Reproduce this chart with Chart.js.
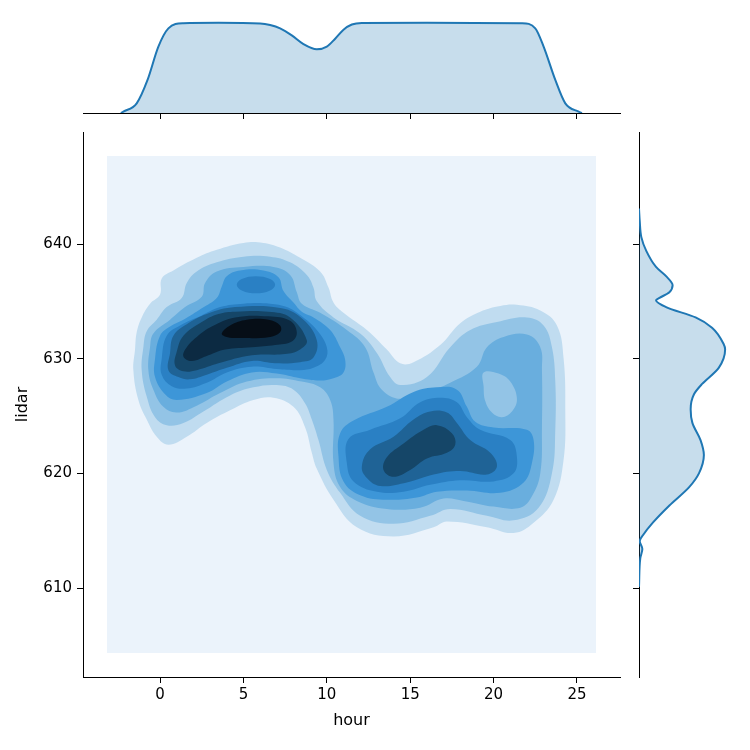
<!DOCTYPE html>
<html>
<head>
<meta charset="utf-8">
<script src="https://cdn.jsdelivr.net/npm/chart.js@4.4.1/dist/chart.umd.min.js"></script>
<style>
  html, body { margin: 0; padding: 0; background: #fff; }
  #wrap { position: relative; width: 750px; height: 750px; }
  canvas { position: absolute; }
</style>
</head>
<body>
<div id="wrap">
  <canvas id="joint" width="750" height="750" style="left:0;top:0"></canvas>
  <canvas id="margX" width="750" height="140" style="left:0;top:0"></canvas>
  <canvas id="margY" width="150" height="750" style="left:600px;top:0"></canvas>
</div>
<script>
// tick labels
const hourTicks = [0, 5, 10, 15, 20, 25];
const lidarTicks = [610, 620, 630, 640];

// axis ranges
const hourRange = [-4.62, 27.58];
const lidarRange = [602.24, 649.77];

// marginal KDE of hour
const hourGrid = [-2.35, -2.2, -1.4, -0.75, -0.1, 0.5, 1.4, 3.5, 6.0, 6.6, 7.2, 7.9, 8.6, 9.4, 10.0, 10.5, 11.0, 11.5, 12.1, 16.0, 21.7, 22.5, 23.0, 23.7, 24.3, 25.1, 25.3];
const hourDensity = [0, 0.0006, 0.0043, 0.0147, 0.0295, 0.0376, 0.0399, 0.0401, 0.0398, 0.0391, 0.0376, 0.0345, 0.0306, 0.0283, 0.0295, 0.0330, 0.0370, 0.0393, 0.0400, 0.0401, 0.0399, 0.0376, 0.0295, 0.0147, 0.0043, 0.0006, 0];
const hourDensityMax = 0.0422;

// marginal KDE of lidar
const lidarGrid = [643.1, 642.0, 640.6, 639.4, 638.0, 637.2, 636.4, 635.8, 635.3, 635.1, 634.5, 633.6, 632.7, 631.3, 630.8, 629.2, 627.8, 626.9, 625.6, 624.4, 622.9, 621.6, 620.0, 618.8, 617.2, 615.7, 614.6, 614.1, 613.4, 612.6, 610.1];
const lidarDensity = [0, 0.0005, 0.0016, 0.0050, 0.0117, 0.0186, 0.0231, 0.0209, 0.0141, 0.0117, 0.0186, 0.0389, 0.0502, 0.0581, 0.0592, 0.0548, 0.0434, 0.0378, 0.0355, 0.0367, 0.0423, 0.0446, 0.0412, 0.0345, 0.0209, 0.0095, 0.0027, 0.0005, 0.0023, 0.0009, 0];
const lidarDensityMax = 0.0653;

// joint KDE: filled contour outlines (hour, lidar), lowest level first
const kdeExtent = [[-3.18, 604.34], [26.14, 604.34], [26.14, 647.67], [-3.18, 647.67]];
const level1 = [[-1.6, 629.0], [-1.5, 630.8], [-1.4, 632.3], [-1.1, 633.6], [-0.6, 634.8], [0.0, 635.6], [0.1, 637.0], [0.8, 637.7], [2.2, 638.8], [3.4, 639.5], [5.0, 640.1], [6.2, 640.1], [7.2, 639.7], [8.4, 638.8], [9.6, 637.6], [10.1, 636.2], [10.4, 634.9], [11.0, 634.0], [12.4, 632.5], [13.6, 630.8], [14.4, 629.6], [15.2, 629.7], [16.8, 631.2], [18.0, 633.1], [19.2, 634.1], [20.4, 634.6], [21.4, 634.7], [22.8, 634.2], [23.8, 632.9], [24.2, 630.0], [24.3, 625.5], [24.2, 621.2], [23.6, 617.7], [22.4, 615.7], [21.2, 614.8], [19.6, 615.3], [17.2, 615.8], [16.4, 615.3], [14.0, 614.5], [11.8, 615.3], [10.4, 617.7], [9.4, 620.4], [9.1, 621.8], [8.7, 624.0], [8.0, 625.8], [6.8, 626.6], [5.6, 626.4], [4.2, 625.5], [2.8, 624.4], [1.6, 623.2], [0.5, 622.5], [-0.2, 623.2], [-0.8, 624.7], [-1.3, 626.4]];
const level2 = [[-1.1, 629.0], [-1.0, 631.0], [-0.8, 632.4], [-0.2, 633.4], [0.4, 634.5], [1.3, 635.3], [1.6, 636.6], [2.2, 637.6], [3.4, 638.4], [5.0, 638.9], [6.6, 638.9], [7.8, 638.4], [8.8, 637.3], [9.2, 636.2], [9.4, 635.0], [10.4, 633.6], [12.0, 632.2], [13.0, 630.5], [13.8, 628.4], [14.4, 627.7], [16.0, 628.4], [17.4, 631.0], [18.6, 632.5], [20.2, 633.2], [22.0, 633.6], [23.0, 632.9], [23.5, 631.0], [23.7, 628.0], [23.7, 623.8], [23.5, 620.0], [22.7, 617.0], [21.2, 615.9], [19.6, 616.3], [17.4, 616.9], [16.2, 616.3], [14.0, 615.6], [12.0, 616.3], [10.8, 618.3], [10.0, 620.3], [9.5, 622.9], [9.1, 624.7], [8.7, 626.1], [8.0, 627.3], [7.0, 627.7], [5.6, 627.5], [4.2, 626.8], [2.6, 625.4], [1.4, 624.4], [0.4, 624.2], [-0.3, 624.9], [-0.8, 626.7]];
const level3 = [[-0.7, 629.0], [-0.6, 631.0], [-0.4, 632.2], [0.6, 633.4], [1.5, 634.5], [2.5, 635.4], [2.7, 636.6], [3.4, 637.6], [5.0, 638.0], [6.8, 638.0], [7.8, 637.3], [8.2, 635.8], [8.5, 634.8], [9.6, 634.0], [11.2, 632.5], [12.3, 631.0], [12.8, 628.8], [13.3, 627.3], [14.4, 626.5], [16.0, 627.1], [17.4, 627.9], [19.0, 629.3], [19.6, 631.0], [20.6, 631.9], [22.0, 632.1], [22.8, 631.0], [22.9, 629.0], [22.9, 624.0], [22.8, 620.0], [22.3, 618.0], [21.6, 617.0], [20.0, 617.1], [18.2, 617.6], [17.0, 617.8], [15.6, 617.0], [13.6, 616.9], [11.8, 617.6], [10.8, 618.8], [10.4, 620.9], [10.4, 624.7], [10.2, 626.4], [9.6, 627.5], [8.5, 628.0], [7.0, 628.3], [5.2, 628.0], [3.6, 627.0], [2.2, 625.9], [1.0, 625.3], [0.2, 625.8], [-0.4, 627.3]];
const level3Hole = [[19.4, 627.6], [19.4, 628.8], [20.3, 628.7], [21.0, 628.0], [21.4, 626.5], [21.1, 625.4], [20.5, 624.9], [19.9, 625.3], [19.5, 626.3]];
const level4Left = [[-0.3, 628.4], [-0.3, 630.0], [0.0, 632.0], [0.6, 632.8], [1.4, 633.4], [2.5, 634.4], [3.4, 635.3], [3.7, 636.3], [4.0, 637.2], [4.8, 637.7], [6.2, 637.7], [7.1, 637.1], [7.4, 635.9], [8.0, 634.9], [8.5, 634.1], [9.2, 633.6], [10.2, 632.5], [10.8, 631.0], [11.1, 629.9], [11.0, 628.8], [10.4, 628.3], [9.6, 628.1], [8.4, 628.3], [7.0, 628.7], [5.5, 628.8], [4.0, 628.0], [2.8, 627.0], [1.0, 626.4], [0.3, 626.9]];
const level4Right = [[10.7, 621.5], [10.8, 623.5], [11.6, 624.6], [13.6, 625.8], [15.2, 627.1], [16.6, 627.5], [17.8, 627.3], [18.4, 625.8], [18.9, 624.5], [20.0, 624.0], [22.0, 623.8], [22.4, 622.9], [22.3, 620.9], [21.8, 619.2], [20.4, 618.3], [18.4, 618.5], [16.6, 618.4], [15.4, 617.9], [13.6, 617.7], [12.0, 618.1], [11.0, 619.3]];
const level5Left = [[0.1, 628.6], [0.1, 630.0], [0.4, 632.0], [1.2, 632.9], [2.4, 633.7], [3.6, 634.5], [5.0, 634.8], [6.6, 634.8], [7.6, 634.5], [8.4, 633.8], [9.4, 632.5], [10.0, 631.0], [9.9, 629.9], [9.2, 629.2], [8.4, 629.0], [7.0, 629.1], [5.5, 629.3], [4.0, 628.8], [2.8, 627.9], [1.6, 627.4], [0.7, 627.6]];
const level5Top = [[4.6, 636.45], [4.9, 636.95], [5.75, 637.2], [6.6, 636.95], [6.9, 636.45], [6.6, 635.95], [5.75, 635.7], [4.9, 635.95]];
const level5Right = [[11.2, 620.9], [11.3, 623.0], [12.6, 623.8], [14.4, 624.8], [15.6, 626.2], [16.8, 626.6], [17.8, 626.2], [18.4, 624.9], [19.2, 623.8], [21.0, 622.9], [21.4, 621.4], [21.2, 620.0], [20.0, 619.3], [18.0, 619.4], [16.2, 619.0], [14.6, 618.4], [13.0, 618.4], [11.6, 619.3]];
const level6Left = [[0.5, 629.0], [0.6, 630.5], [0.8, 632.0], [1.6, 633.0], [2.8, 633.9], [4.5, 634.5], [7.3, 634.4], [8.6, 633.4], [9.4, 631.6], [9.2, 630.1], [8.4, 629.7], [6.9, 629.6], [5.5, 629.8], [4.0, 629.2], [2.8, 628.6], [1.8, 628.2], [1.1, 628.4]];
const level6Right = [[12.1, 620.6], [12.6, 622.1], [14.0, 623.2], [15.2, 624.7], [16.2, 625.4], [17.2, 625.3], [17.8, 624.4], [18.6, 622.9], [19.8, 621.8], [20.2, 620.6], [19.6, 619.9], [18.0, 620.2], [16.4, 619.9], [14.8, 619.2], [13.2, 618.9], [12.4, 619.6]];
const level7Left = [[0.9, 629.4], [1.0, 630.6], [1.4, 632.0], [2.5, 633.2], [3.5, 633.9], [4.5, 634.1], [6.5, 634.1], [7.8, 633.6], [8.8, 631.6], [8.4, 630.8], [7.5, 630.4], [5.5, 630.3], [3.5, 629.6], [2.2, 629.0], [1.4, 628.9]];
const level7Right = [[13.4, 620.3], [13.6, 621.4], [14.6, 622.6], [15.8, 623.8], [16.6, 624.2], [17.5, 623.5], [17.7, 622.5], [17.2, 621.8], [16.0, 621.3], [15.0, 620.3], [14.0, 619.7]];
const level8 = [[1.4, 630.2], [1.6, 631.0], [2.2, 631.9], [3.1, 632.8], [4.5, 633.6], [6.5, 633.7], [7.8, 633.3], [8.2, 632.3], [7.9, 631.5], [6.9, 631.2], [5.5, 631.0], [3.9, 630.8], [2.9, 630.3], [1.9, 629.8]];
const level9 = [[3.7, 632.2], [4.2, 632.9], [5.2, 633.4], [6.5, 633.4], [7.2, 632.9], [7.2, 632.3], [6.6, 631.9], [4.8, 631.8], [4.0, 631.9]];

// colours of the shading levels, light to dark
const shadeColors = ['#ebf3fb', '#c0dcf0', '#93c4e6', '#69aede', '#3d96d8', '#2a80c4', '#1f6396', '#154668', '#0c2a42', '#060e17'];

const lineBlue = '#1f77b4';
const fillBlue = 'rgba(31, 119, 180, 0.25)';
const textFont = { family: 'DejaVu Sans', size: 15 };
const titleFont = { family: 'DejaVu Sans', size: 16 };

// wrap a closed outline so the smoothed curve has no corner at its start
function ring(pts) {
  const wrapped = [pts[pts.length - 1], ...pts, pts[0], pts[1]];
  return wrapped.map(([x, y]) => ({ x, y }));
}

const layers = [
  [kdeExtent, 0, 0],
  [level1, 1], [level2, 2], [level3, 3], [level3Hole, 2],
  [level4Left, 4], [level4Right, 4],
  [level5Left, 5], [level5Top, 5], [level5Right, 5],
  [level6Left, 6], [level6Right, 6],
  [level7Left, 7], [level7Right, 7],
  [level8, 8], [level9, 9]
];

const contourSets = layers.map(([pts, lvl, tension = 0.4], i) => ({
  data: tension ? ring(pts) : pts.map(([x, y]) => ({ x, y })),
  showLine: true,
  fill: 'shape',
  tension: tension,
  borderWidth: 0,
  pointRadius: 0,
  backgroundColor: shadeColors[lvl],
  order: layers.length - i
}));

function fixedTicks(values) {
  return scale => { scale.ticks = values.map(v => ({ value: v })); };
}

const tickGrid = { drawOnChartArea: false, drawTicks: true, tickLength: 6, tickColor: '#000', tickWidth: 1 };
const axisBorder = { display: true, color: '#000', width: 1 };

// JOINT PLOT
new Chart(document.getElementById('joint'), {
  type: 'scatter',
  data: { datasets: contourSets },
  options: {
    responsive: false,
    animation: false,
    events: [],
    layout: { padding: { top: 132, right: 130, left: 0, bottom: 0 } },
    plugins: { legend: { display: false }, tooltip: { enabled: false } },
    scales: {
      x: {
        type: 'linear', min: hourRange[0], max: hourRange[1],
        afterBuildTicks: fixedTicks(hourTicks),
        afterFit: s => { s.height = 73; },
        grid: tickGrid, border: axisBorder,
        ticks: { color: '#000', font: textFont, padding: 3, maxRotation: 0, autoSkip: false, callback: v => v },
        title: { display: true, text: 'hour', color: '#000', font: titleFont, padding: { bottom: 20 } }
      },
      y: {
        type: 'linear', min: lidarRange[0], max: lidarRange[1],
        afterBuildTicks: fixedTicks(lidarTicks),
        afterFit: s => { s.width = 83; },
        grid: tickGrid, border: axisBorder,
        ticks: { color: '#000', font: textFont, padding: 5, autoSkip: false, callback: v => v },
        title: { display: true, text: 'lidar', color: '#000', font: titleFont, padding: { top: 13 } }
      }
    }
  }
});

// TOP MARGINAL (hour)
new Chart(document.getElementById('margX'), {
  type: 'scatter',
  data: {
    datasets: [{
      data: hourGrid.map((x, i) => ({ x, y: hourDensity[i] })),
      showLine: true, fill: 'shape', cubicInterpolationMode: 'monotone',
      borderColor: lineBlue, borderWidth: 2, backgroundColor: fillBlue, pointRadius: 0
    }]
  },
  options: {
    responsive: false,
    animation: false,
    events: [],
    layout: { padding: { top: 18, right: 130, left: 83, bottom: 0 } },
    plugins: { legend: { display: false }, tooltip: { enabled: false } },
    scales: {
      x: {
        type: 'linear', min: hourRange[0], max: hourRange[1],
        afterBuildTicks: fixedTicks(hourTicks),
        afterFit: s => { s.height = 27; },
        grid: tickGrid, border: axisBorder,
        ticks: { display: false }
      },
      y: { type: 'linear', min: 0, max: hourDensityMax, display: false }
    }
  }
});

// RIGHT MARGINAL (lidar)
new Chart(document.getElementById('margY'), {
  type: 'scatter',
  data: {
    datasets: [{
      data: lidarGrid.map((y, i) => ({ x: lidarDensity[i], y })),
      showLine: true, fill: 'shape', cubicInterpolationMode: 'monotone',
      borderColor: lineBlue, borderWidth: 2, backgroundColor: fillBlue, pointRadius: 0
    }]
  },
  options: {
    indexAxis: 'y',
    responsive: false,
    animation: false,
    events: [],
    layout: { padding: { top: 132, right: 16, left: 0, bottom: 73 } },
    plugins: { legend: { display: false }, tooltip: { enabled: false } },
    scales: {
      x: { type: 'linear', axis: 'x', position: 'bottom', min: 0, max: lidarDensityMax, display: false },
      y: {
        type: 'linear', axis: 'y', position: 'left', min: lidarRange[0], max: lidarRange[1],
        afterBuildTicks: fixedTicks(lidarTicks),
        afterFit: s => { s.width = 39; },
        grid: tickGrid, border: axisBorder,
        ticks: { display: false }
      }
    }
  }
});
</script>
</body>
</html>
